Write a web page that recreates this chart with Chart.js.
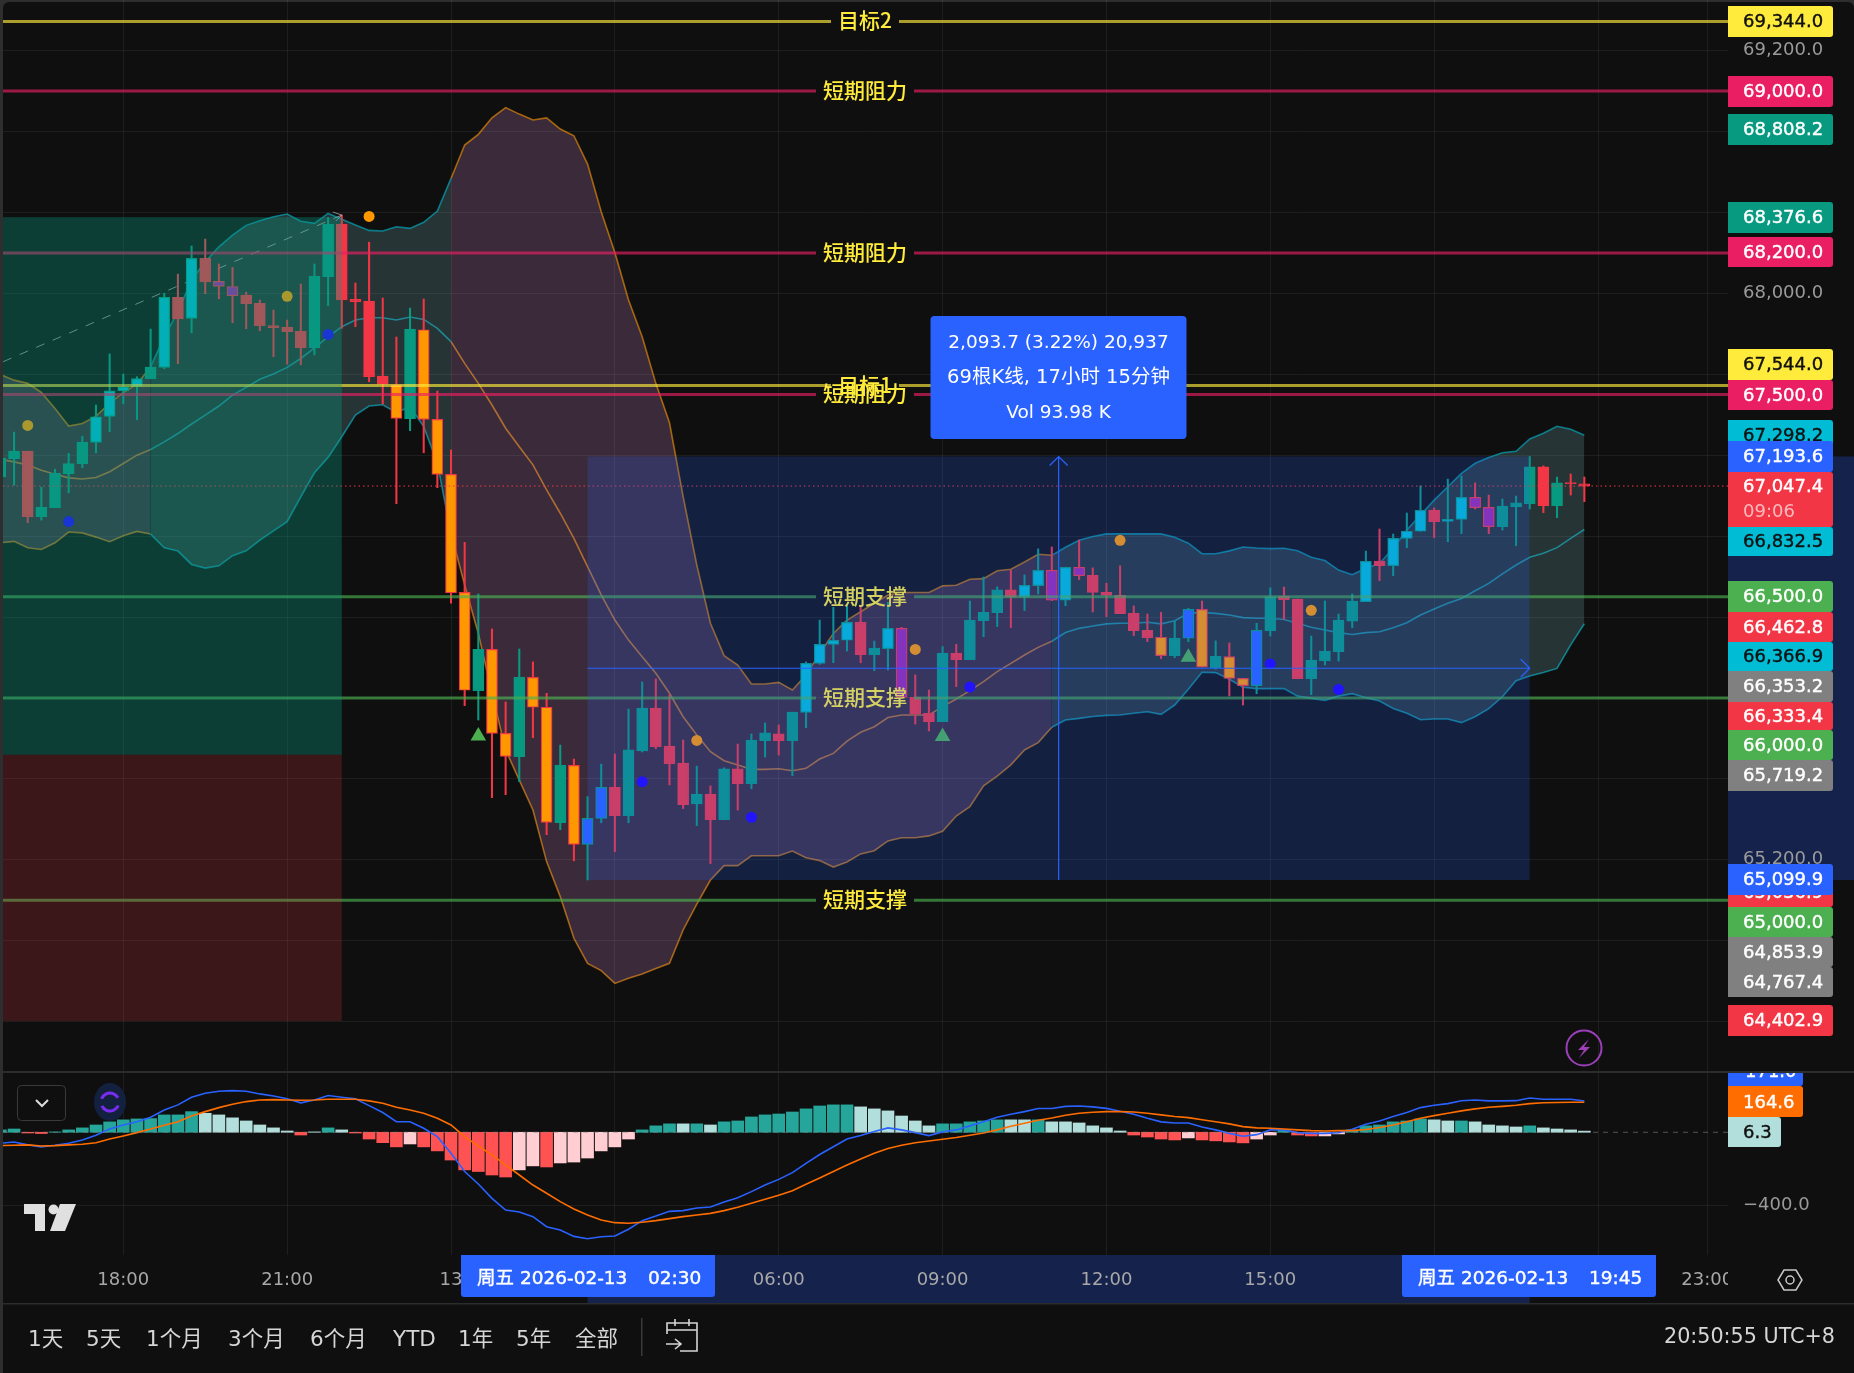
<!DOCTYPE html>
<html>
<head>
<meta charset="utf-8">
<style>
  html, body { margin: 0; padding: 0; background: #2e2e2e; overflow: hidden; }
  canvas { display: block; }
</style>
<script src="https://cdn.jsdelivr.net/npm/chart.js@4"></script>
</head>
<body>
<canvas id="c" width="1854" height="1373"></canvas>
<script>
// 15 minute bars, bar 0 is 18:00 of the previous day
const firstBar = -9;
const kinds = ("g g r g g g g c c c c g c r c r p p r r r r r g g r r r r o " +
  "g o o o o g o o g o o g o b b r g g r r r g r g r g g r g c " +
  "c c c r g c p r r g r g g g r c c p c p r r r r r o g b o g " +
  "o o b g r r g g g g c r c c c r c c p p g g g r g r r").split(" ");
const opens = [
  67093,67182,67220,66896,66940,67108,67158,67263,67392,67518,
  67540,67578,67634,67980,67876,68173,68059,68034,67990,67950,
  67841,67832,67812,67731,68082,68342,67970,67960,67591,67548,
  67380,67820,67377,67105,66522,66036,66240,65825,65710,66102,
  65954,65383,65667,65276,65405,65558,65418,65738,65950,65762,
  65678,65476,65525,65398,65649,65576,65789,65822,65789,65929,
  66171,66265,66285,66374,66214,66244,66344,66003,65924,65883,
  66221,66189,66382,66422,66534,66498,66555,66631,66483,66646,
  66606,66522,66507,66418,66334,66300,66209,66295,66438,66148,
  66204,66097,66061,66333,66502,66489,66095,66184,66229,66380,
  66476,66677,66654,66789,66824,66929,66873,66883,66992,66942,
  66847,66944,66960,67142,66950,67064,67058];
const closes = [
  67186,67220,66896,66943,67110,67159,67265,67390,67518,67538,
  67579,67635,67980,67874,68173,68057,68034,67988,67949,67840,
  67830,67810,67731,68084,68342,67968,67958,67588,67551,67382,
  67823,67377,67105,66520,66038,66240,65825,65711,66102,65954,
  65385,65667,65276,65405,65558,65418,65743,65950,65759,65675,
  65472,65525,65398,65649,65576,65792,65827,65789,65930,66171,
  66265,66285,66374,66214,66247,66344,66003,65921,65883,66221,
  66189,66385,66423,66534,66498,66557,66631,66483,66646,66605,
  66521,66507,66417,66333,66298,66209,66295,66438,66152,66206,
  66097,66061,66334,66501,66484,66095,66187,66232,66385,66479,
  66675,66654,66789,66824,66927,66871,66883,66992,66941,66847,
  66949,66964,67142,66950,67063,67059,67047.4];
const highs = [
  67215,67314,67220,67042,67130,67209,67294,67448,67700,67601,
  67588,67823,68000,68095,68234,68268,68145,68128,68006,67967,
  67917,67868,68046,68145,68375,68387,68051,68253,67977,67784,
  67927,67972,67517,67226,66769,66514,66341,65980,66242,66178,
  66023,65767,65698,65512,65673,65723,65945,66079,66094,66015,
  65792,65663,65565,65655,65772,65822,65876,65866,65930,66178,
  66385,66448,66459,66455,66281,66473,66349,66114,66039,66254,
  66265,66479,66598,66549,66631,66608,66737,66746,66646,66781,
  66643,66567,66653,66455,66415,66423,66381,66443,66479,66282,
  66272,66097,66369,66544,66548,66489,66306,66479,66415,66514,
  66726,66835,66810,66914,67048,66939,67082,67097,67063,67003,
  66983,66998,67193.6,67147,67092,67107,67092];
const lows = [
  67060,67052,66866,66879,66940,67014,67138,67212,67316,67454,
  67375,67578,67627,67652,67805,67998,67973,67855,67825,67815,
  67687,67650,67647,67696,67939,67827,67835,67563,67454,66960,
  67321,67212,67039,66468,65962,65891,65507,65522,65586,65804,
  65324,65349,65195,65100,65383,65240,65383,65733,65749,65570,
  65453,65369,65181,65398,65446,65551,65708,65718,65616,65853,
  66166,66174,66232,66174,66135,66138,65998,65871,65837,65883,
  66056,66189,66303,66353,66348,66432,66514,66481,66456,66585,
  66425,66402,66417,66308,66278,66194,66199,66278,66152,66142,
  66010,65965,66021,66306,66388,66095,66016,66163,66182,66347,
  66476,66580,66604,66743,66824,66792,66772,66812,66934,66812,
  66830,66753,66934,66916,66891,67003,66970];

const bbUpper = [
  67598,67571,67555,67510,67431,67344,67357,67393,67456,67510,
  67551,67637,67785,67909,68066,68156,68230,68288,68336,68359,
  68379,68392,68356,68346,68395,68366,68338,68311,68308,68329,
  68321,68351,68407,68568,68733,68786,68868,68918,68886,68857,
  68867,68812,68779,68639,68403,68202,67967,67785,67555,67360,
  66995,66657,66369,66209,66163,66069,66069,66077,66039,66113,
  66220,66319,66385,66426,66468,66509,66521,66521,66521,66554,
  66557,66587,66590,66629,66636,66672,66710,66705,66745,66779,
  66798,66811,66811,66811,66811,66811,66794,66765,66713,66713,
  66727,66746,66741,66738,66740,66728,66695,66679,66632,66609,
  66641,66665,66740,66830,66904,66978,67044,67110,67160,67188,
  67212,67219,67280,67308,67343,67328,67298.2];
const bbBasis = [
  67179,67167,67151,67126,67106,67088,67082,67090,67118,67159,
  67200,67228,67266,67307,67354,67398,67443,67497,67535,67575,
  67601,67634,67678,67731,67785,67835,67868,67879,67879,67868,
  67883,67871,67827,67761,67654,67555,67448,67333,67242,67152,
  67028,66913,66789,66649,66509,66385,66286,66204,66122,66023,
  65907,65817,65734,65690,65668,65647,65647,65650,65640,65652,
  65698,65726,65787,65830,65858,65903,65916,65916,65916,65957,
  65995,66036,66081,66130,66171,66212,66250,66280,66323,66344,
  66356,66366,66369,66369,66374,66366,66382,66418,66423,66418,
  66410,66397,66394,66394,66388,66369,66349,66336,66323,66314,
  66323,66327,66347,66372,66410,66440,66468,66492,66530,66566,
  66613,66657,66695,66715,66743,66789,66832.5];
const bbLower = [
  66767,66774,66742,66734,66767,66820,66816,66795,66772,66802,
  66823,66810,66742,66726,66660,66642,66653,66703,66727,66780,
  66826,66871,66994,67113,67189,67291,67398,67443,67449,67410,
  67439,67341,67160,66814,66558,66319,66023,65743,65594,65446,
  65191,65018,64812,64688,64652,64589,64614,64635,64663,64688,
  64853,64981,65100,65171,65171,65220,65220,65220,65243,65210,
  65196,65164,65189,65229,65245,65293,65309,65309,65318,65341,
  65416,65463,65566,65614,65669,65743,65779,65855,65891,65899,
  65908,65914,65916,65924,65932,65919,65965,66043,66127,66125,
  66092,66053,66046,66046,66047,66009,65998,65988,66009,66021,
  66001,65985,65948,65924,65892,65896,65896,65878,65907,65947,
  66006,66085,66108,66126,66146,66262,66366.9];
// the band colour flips at these bars: orange, teal, orange, teal
const bbFlipBars = [2, 24, 68];

const macdHist = [
  13,18,-4,-7,2,13,24,40,57,68,
  73,75,95,95,113,104,95,79,62,40,
  24,7,-15,2,24,13,-4,-37,-57,-80,
  -64,-80,-102,-152,-206,-215,-234,-245,-206,-184,
  -190,-168,-163,-141,-102,-80,-37,13,35,46,
  46,46,40,57,62,84,95,100,111,128,
  144,150,150,139,128,117,89,62,35,46,
  46,57,62,68,68,68,68,57,57,51,
  35,24,7,-15,-26,-37,-42,-31,-42,-47,
  -53,-58,-37,-15,11,-15,-20,-20,-9,13,
  35,40,57,62,73,68,62,62,57,40,
  35,29,35,24,18,13,6.3];
// d = strong shade, l = pale shade
const macdShade = ("d d d d d d d d d d d d d d d l l l l l " +
  "l l d l d l d d d d l d d d d d d d l l " +
  "d l l l l l l d d d l d l d d d d d d d " +
  "d d d l l l l l l d d d d d l l d l l l " +
  "l l l d d d d l d d d d l l d d d l l d " +
  "d d d d d l l d l l l l d l l l l").split(" ");
const macdLine = [
  -60,-53,-69,-80,-71,-60,-42,-16,18,40,
  58,82,122,150,192,214,225,228,225,210,
  199,184,161,177,201,192,184,146,108,58,
  58,22,-24,-115,-215,-283,-362,-426,-437,-462,
  -517,-535,-570,-583,-572,-568,-531,-484,-458,-433,
  -429,-415,-409,-382,-358,-325,-289,-258,-221,-170,
  -122,-79,-37,-18,4,24,13,-2,-18,2,
  13,35,57,82,99,113,130,130,142,144,
  139,131,115,99,77,57,51,51,29,13,
  -6,-22,-13,13,13,-2,-6,-6,-2,16,
  44,62,86,108,135,148,157,173,177,172,
  172,173,188,181,181,181,171];
const macdSignal = [
  -73,-71,-69,-75,-73,-69,-66,-57,-37,-20,
  -2,18,38,58,89,113,135,153,168,177,
  179,177,175,177,181,181,181,172,159,137,
  122,104,77,40,-24,-75,-124,-179,-234,-289,
  -334,-380,-420,-453,-480,-495,-498,-493,-484,-473,
  -462,-453,-444,-429,-411,-389,-367,-345,-320,-285,
  -250,-215,-179,-146,-115,-89,-71,-57,-48,-38,
  -29,-16,-4,13,33,49,66,78,93,104,
  110,113,113,111,104,95,86,80,69,58,
  46,31,24,22,18,13,9,7,9,9,
  15,26,40,58,77,91,104,117,128,137,
  142,148,157,162,163,164,164.6];

// markers: bar index and price
const orangeDotBars = [-7, 12, 18, 42, 58, 73, 87];
const orangeDotPrices = [67347, 67985, 68380, 65790, 66240, 66779, 66433];
const blueDotBars = [-4, 15, 38, 46, 62, 84, 89];
const blueDotPrices = [66872, 67797, 65586, 65410, 66054, 66168, 66042];
const triangleBars = [26, 60, 78];
const trianglePrices = [65812, 65809, 66201];

const trendBars = [-8.8, 16];
const trendPrices = [67662, 68387];

const levelPrices = [69344, 69000, 68200, 67544, 67500, 66500, 66000, 65000];
const levelNames = ["目标2", "短期阻力", "短期阻力", "目标1", "短期阻力", "短期支撑", "短期支撑", "短期支撑"];
const levelKinds = ["target", "resist", "resist", "target", "resist", "support", "support", "support"];

const priceTicks = [69200, 68800, 68400, 68000, 67600, 67200, 66800, 66400, 66000, 65600, 65200, 64800, 64400];
const macdTicks = [-400];
const timeTickBars = [0, 12, 24, 36, 48, 60, 72, 84, 96, 108, 116];
const timeTickLabels = ["18:00", "21:00", "13", "03:00", "06:00", "09:00", "12:00", "15:00", "18:00", "21:00", "23:00"];

const tagTexts = ["69,344.0","69,000.0","68,808.2","68,376.6","68,200.0","67,544.0","67,500.0","67,298.2","67,193.6",
  "67,047.4","66,832.5","66,500.0","66,462.8","66,366.9","66,353.2","66,333.4","66,000.0","65,719.2",
  "65,036.9","65,099.9","65,000.0","64,853.9","64,767.4","64,402.9"];
const tagColors = ["#ffeb3b","#e91e63","#089981","#089981","#e91e63","#ffeb3b","#e91e63","#00bcd4","#2962ff",
  "#f23645","#00bcd4","#4caf50","#f23645","#00bcd4","#808080","#f23645","#4caf50","#808080",
  "#f23645","#2962ff","#4caf50","#808080","#808080","#f23645"];
const tagBoxes = [[6,37],[76,107],[114,145],[202,233],[237,267],[349,380],[380,410],[420,451],[441,472],
  [472,527],[527,556],[581,612],[612,642],[642,671],[671,702],[702,730],[730,760],[760,791],
  [877,907],[864,895],[907,937],[937,967],[967,997],[1005,1036]];

const zonePriceTop = 68376.6, zonePriceMid = 65719.2, zonePriceBottom = 64402.9, zoneEndBar = 16;
const measureStartBar = 34, measureEndBar = 103, measureHigh = 67193.6, measureLow = 65099.9;
const lastPrice = 67047.4;

const FONT_FAMILY = '"DejaVu Sans", "Noto Sans CJK SC"';
const FONT_PRICE = '18px "DejaVu Sans"';
const GRID = "rgba(242,242,242,0.07)";
const BG = "#0f0f0f";

const bodyColor = { g: "#089981", r: "#f23645", c: "#00bcd4", o: "#ff9800", p: "#9c27b0", b: "#2962ff" };
const edgeColor = { g: "#089981", r: "#f23645", c: "#089981", o: "#f23645", p: "#f23645", b: "#089981" };

const barX = k => k + firstBar;
const band = i => {
  let n = 0;
  bbFlipBars.forEach(b => { if (i >= b) n++; });
  return n % 2 === 1 ? "teal" : "orange";
};
const bandLine = { teal: "rgba(0,188,212,0.6)", orange: "rgba(255,152,0,0.6)" };
const bandFill = { teal: "rgba(130,200,205,0.2)", orange: "rgba(235,155,230,0.2)" };
const bbSegment = {
  borderColor: ctx => bandLine[band(barX(ctx.p0DataIndex))],
  backgroundColor: ctx => bandFill[band(barX(ctx.p0DataIndex))]
};

function bbDataset(values, fill) {
  return {
    type: "line", yAxisID: "y", order: 6, data: values.map((v, k) => ({ x: barX(k), y: v })),
    borderWidth: 1.6, pointRadius: 0, tension: 0, fill, borderColor: bandLine.teal,
    backgroundColor: bandFill.teal, segment: bbSegment
  };
}

function dots(bars, prices, color, style, radius) {
  return {
    type: "scatter", yAxisID: "y", order: 1, data: bars.map((b, k) => ({ x: b, y: prices[k] })),
    backgroundColor: color, borderWidth: 0, pointStyle: style, pointRadius: radius
  };
}

function fmt(v) {
  return v.toLocaleString("en-US", { minimumFractionDigits: 1, maximumFractionDigits: 1 });
}

// tag text looks a little heavier than the plain face
function boldText(ctx, t, x, y) {
  ctx.lineWidth = 0.4;
  ctx.strokeStyle = ctx.fillStyle;
  ctx.strokeText(t, x, y);
  ctx.fillText(t, x, y);
}

function placeScale(s, top, bottom) {
  s.top = top;
  s.bottom = bottom;
  s.height = bottom - top;
  s.configure();
}

// horizontal levels, price line, position zones and the measure box sit on top of the candles
const overlays = {
  id: "overlays",
  // pin the two panes, the stacked layout leaves a gap at the top
  afterLayout(chart) {
    const a = chart.chartArea;
    a.top = 0;
    a.bottom = 1255;
    a.height = 1255;
    placeScale(chart.scales.y, 0, 1072);
    placeScale(chart.scales.yM, 1072, 1255);
    placeScale(chart.scales.x, 1255, 1303);
  },
  beforeDraw(chart) {
    const ctx = chart.ctx, y = chart.scales.y, x = chart.scales.x;
    ctx.save();
    ctx.fillStyle = BG;
    ctx.beginPath();
    ctx.roundRect(3, 2, 1851, 1371, [6, 6, 0, 0]);
    ctx.fill();
    // range highlighted on both axes
    ctx.fillStyle = "#15224c";
    ctx.fillRect(1728, y.getPixelForValue(measureHigh), 126, y.getPixelForValue(measureLow) - y.getPixelForValue(measureHigh));
    ctx.fillRect(x.getPixelForValue(measureStartBar), 1255, x.getPixelForValue(measureEndBar) - x.getPixelForValue(measureStartBar), 48);
    ctx.restore();
  },
  afterDatasetsDraw(chart) {
    const ctx = chart.ctx, a = chart.chartArea, x = chart.scales.x, y = chart.scales.y, yM = chart.scales.yM;
    const levelColor = { target: "rgba(255,235,59,0.65)", resist: "rgba(233,30,99,0.65)", support: "rgba(76,175,80,0.65)" };
    ctx.save();
    ctx.beginPath();
    ctx.rect(a.left, a.top, a.right - a.left, a.bottom - a.top);
    ctx.clip();

    // macd zero line
    const zero = yM.getPixelForValue(0);
    ctx.strokeStyle = "rgba(130,130,130,0.6)";
    ctx.lineWidth = 1;
    ctx.setLineDash([5, 5]);
    ctx.beginPath(); ctx.moveTo(a.left, zero); ctx.lineTo(a.right, zero); ctx.stroke();

    // last price
    ctx.strokeStyle = "#f23645";
    ctx.setLineDash([1.5, 3]);
    const lp = y.getPixelForValue(lastPrice);
    ctx.beginPath(); ctx.moveTo(a.left, lp); ctx.lineTo(a.right, lp); ctx.stroke();
    ctx.setLineDash([]);

    // levels with centred names
    levelPrices.forEach((p, k) => {
      const py = y.getPixelForValue(p);
      const half = levelNames[k].length > 3 ? 49 : 34;
      ctx.strokeStyle = levelColor[levelKinds[k]];
      ctx.lineWidth = 3;
      ctx.beginPath();
      ctx.moveTo(a.left, py); ctx.lineTo(865 - half, py);
      ctx.moveTo(865 + half, py); ctx.lineTo(a.right, py);
      ctx.stroke();
    });
    ctx.font = '500 21px "Noto Sans CJK SC"';
    ctx.fillStyle = "#ffeb3b";
    ctx.textAlign = "center";
    ctx.textBaseline = "middle";
    levelPrices.forEach((p, k) => ctx.fillText(levelNames[k], 865, y.getPixelForValue(p) - 1));

    // trend arrow head
    const tx = x.getPixelForValue(trendBars[1]), ty = y.getPixelForValue(trendPrices[1]);
    ctx.strokeStyle = "rgba(190,190,190,0.7)";
    ctx.lineWidth = 1;
    ctx.beginPath();
    ctx.moveTo(tx - 9, ty - 3); ctx.lineTo(tx, ty); ctx.lineTo(tx - 6, ty + 6);
    ctx.stroke();

    // long position zones
    const left = a.left, right = x.getPixelForValue(zoneEndBar);
    const top = y.getPixelForValue(zonePriceTop), mid = y.getPixelForValue(zonePriceMid), bot = y.getPixelForValue(zonePriceBottom);
    ctx.fillStyle = "rgba(8,153,129,0.35)";
    ctx.fillRect(left, top, right - left, mid - top);
    ctx.fillStyle = "rgba(242,54,69,0.2)";
    ctx.fillRect(left, mid, right - left, bot - mid);

    // measure box
    const mx0 = x.getPixelForValue(measureStartBar), mx1 = x.getPixelForValue(measureEndBar);
    const my0 = y.getPixelForValue(measureHigh), my1 = y.getPixelForValue(measureLow);
    const mxc = (mx0 + mx1) / 2, myc = (my0 + my1) / 2;
    ctx.fillStyle = "rgba(41,98,255,0.2)";
    ctx.fillRect(mx0, my0, mx1 - mx0, my1 - my0);
    ctx.strokeStyle = "#2962ff";
    ctx.lineWidth = 1.2;
    ctx.beginPath();
    ctx.moveTo(mx0, myc); ctx.lineTo(mx1, myc);
    ctx.moveTo(mx1 - 9, myc - 9); ctx.lineTo(mx1, myc); ctx.lineTo(mx1 - 9, myc + 9);
    ctx.moveTo(mxc, my1); ctx.lineTo(mxc, my0);
    ctx.moveTo(mxc - 9, my0 + 9); ctx.lineTo(mxc, my0); ctx.lineTo(mxc + 9, my0 + 9);
    ctx.stroke();
    ctx.restore();
  },
  afterDraw(chart) {
    const ctx = chart.ctx;
    ctx.save();
    // cover what the time axis draws under the price axis
    ctx.fillStyle = BG;
    ctx.fillRect(1728, 1256, 126, 46);

    // pane and footer separators
    ctx.fillStyle = "#2c2c2c";
    ctx.fillRect(3, 1071, 1851, 2);
    ctx.fillRect(3, 1303, 1851, 1.5);

    // price tags
    ctx.font = FONT_PRICE;
    ctx.textAlign = "left";
    ctx.textBaseline = "middle";
    tagTexts.forEach((t, k) => {
      const [y0, y1] = tagBoxes[k];
      const c = tagColors[k];
      ctx.fillStyle = c;
      ctx.beginPath();
      ctx.roundRect(1728, y0, 105, y1 - y0, [0, 3, 3, 0]);
      ctx.fill();
      ctx.fillStyle = c === "#ffeb3b" || c === "#00bcd4" ? "#0f0f0f" : "#ffffff";
      const cy = t === "67,047.4" ? y0 + 15 : (y0 + y1) / 2 + 1;
      boldText(ctx, t, 1743, cy);
      if (t === "67,047.4") {
        ctx.fillStyle = "rgba(255,255,255,0.65)";
        ctx.fillText("09:06", 1743, y0 + 40);
      }
    });

    // macd tags, the top one is cut by the pane edge
    ctx.save();
    ctx.beginPath();
    ctx.rect(1728, 1073, 126, 182);
    ctx.clip();
    ctx.fillStyle = "#2962ff";
    ctx.beginPath(); ctx.roundRect(1728, 1056, 75, 30, [0, 3, 3, 0]); ctx.fill();
    ctx.fillStyle = "#ffffff";
    boldText(ctx, "171.0", 1745, 1072);
    ctx.restore();
    ctx.fillStyle = "#ff6d00";
    ctx.beginPath(); ctx.roundRect(1728, 1086, 75, 31, [0, 3, 3, 0]); ctx.fill();
    ctx.fillStyle = "#ffffff";
    boldText(ctx, "164.6", 1743, 1103);
    ctx.fillStyle = "#b2dfdb";
    ctx.beginPath(); ctx.roundRect(1728, 1117, 53, 30, [0, 3, 3, 0]); ctx.fill();
    ctx.fillStyle = "#0f0f0f";
    boldText(ctx, "6.3", 1743, 1133);

    // measure label
    ctx.fillStyle = "#2962ff";
    ctx.beginPath(); ctx.roundRect(930.5, 316, 256, 123, 4); ctx.fill();
    ctx.fillStyle = "#ffffff";
    ctx.textAlign = "center";
    ctx.font = '18.5px ' + FONT_FAMILY;
    ctx.fillText("2,093.7 (3.22%) 20,937", 1058.5, 343);
    ctx.font = '19.5px ' + FONT_FAMILY;
    ctx.fillText("69根K线, 17小时 15分钟", 1058.5, 378);
    ctx.font = '18.5px ' + FONT_FAMILY;
    ctx.fillText("Vol 93.98 K", 1058.5, 413);

    // crosshair date tags
    [[461, "02:30"], [1402, "19:45"]].forEach(([tx, hm]) => {
      ctx.fillStyle = "#2962ff";
      ctx.beginPath(); ctx.roundRect(tx, 1255, 254, 42, [0, 0, 3, 3]); ctx.fill();
      ctx.fillStyle = "#ffffff";
      ctx.font = '18.5px ' + FONT_FAMILY;
      ctx.textAlign = "left";
      boldText(ctx, "周五 2026-02-13", tx + 16, 1279);
      boldText(ctx, hm, tx + 187, 1279);
    });

    // footer
    ctx.font = '21.5px ' + FONT_FAMILY;
    ctx.fillStyle = "#d6d6d6";
    ctx.textAlign = "left";
    [["1天", 28], ["5天", 86], ["1个月", 146], ["3个月", 228], ["6个月", 310], ["YTD", 393], ["1年", 458], ["5年", 516], ["全部", 575]]
      .forEach(([t, tx]) => ctx.fillText(t, tx, 1340));
    ctx.textAlign = "right";
    ctx.font = '20.7px ' + FONT_FAMILY;
    ctx.fillText("20:50:55 UTC+8", 1835, 1338);
    ctx.fillStyle = "#3a3a3a";
    ctx.fillRect(641, 1318, 1.5, 38);

    // calendar icon
    ctx.strokeStyle = "#d6d6d6";
    ctx.lineWidth = 1.6;
    ctx.beginPath();
    ctx.moveTo(667, 1334); ctx.lineTo(667, 1323); ctx.lineTo(697, 1323); ctx.lineTo(697, 1351); ctx.lineTo(680, 1351);
    ctx.moveTo(667, 1330); ctx.lineTo(697, 1330);
    ctx.moveTo(675, 1319); ctx.lineTo(675, 1326);
    ctx.moveTo(689, 1319); ctx.lineTo(689, 1326);
    ctx.moveTo(666, 1344); ctx.lineTo(680, 1344);
    ctx.moveTo(675, 1339); ctx.lineTo(681, 1344); ctx.lineTo(675, 1349);
    ctx.stroke();

    // settings hexagon
    ctx.strokeStyle = "#c8c8c8";
    ctx.lineWidth = 1.5;
    ctx.beginPath();
    ctx.moveTo(1778, 1280); ctx.lineTo(1784, 1270); ctx.lineTo(1796, 1270);
    ctx.lineTo(1802, 1280); ctx.lineTo(1796, 1290); ctx.lineTo(1784, 1290); ctx.closePath();
    ctx.stroke();
    ctx.beginPath(); ctx.arc(1790, 1280, 4, 0, Math.PI * 2); ctx.stroke();

    // lightning badge
    ctx.strokeStyle = "#9c3fb8";
    ctx.lineWidth = 2;
    ctx.beginPath(); ctx.arc(1584, 1048, 17.5, 0, Math.PI * 2); ctx.stroke();
    ctx.fillStyle = "#9c3fb8";
    ctx.beginPath();
    ctx.moveTo(1589, 1039); ctx.lineTo(1578, 1050); ctx.lineTo(1584, 1050);
    ctx.lineTo(1579, 1058); ctx.lineTo(1590, 1047); ctx.lineTo(1584, 1047);
    ctx.closePath(); ctx.fill();

    // collapse button and sync icon
    ctx.strokeStyle = "#3a3a3a";
    ctx.lineWidth = 1;
    ctx.beginPath(); ctx.roundRect(17.5, 1085.5, 48, 35, 4); ctx.stroke();
    ctx.strokeStyle = "#dddddd";
    ctx.lineWidth = 2;
    ctx.beginPath(); ctx.moveTo(36, 1100); ctx.lineTo(42, 1106); ctx.lineTo(48, 1100); ctx.stroke();
    ctx.fillStyle = "#14203f";
    ctx.beginPath(); ctx.ellipse(110, 1102, 16, 19, 0, 0, Math.PI * 2); ctx.fill();
    ctx.strokeStyle = "#7a2df0";
    ctx.lineWidth = 3;
    ctx.beginPath(); ctx.arc(110, 1102, 9, 3.5, 5.8); ctx.stroke();
    ctx.beginPath(); ctx.arc(110, 1102, 9, 0.4, 2.7); ctx.stroke();

    // logo
    ctx.fillStyle = "#e0e0e0";
    ctx.fillRect(24, 1204, 21, 10);
    ctx.fillRect(35, 1204, 10, 27);
    ctx.beginPath(); ctx.arc(53.5, 1209.5, 5, 0, Math.PI * 2); ctx.fill();
    ctx.beginPath();
    ctx.moveTo(60, 1204); ctx.lineTo(76, 1204); ctx.lineTo(65, 1231); ctx.lineTo(50, 1231);
    ctx.closePath(); ctx.fill();
    ctx.restore();
  }
};

new Chart(document.getElementById("c"), {
  type: "line",
  plugins: [overlays],
  data: {
    datasets: [
      bbDataset(bbUpper, "+2"),
      bbDataset(bbBasis, false),
      bbDataset(bbLower, false),
      {
        type: "line", yAxisID: "y", order: 5, pointRadius: 0, borderWidth: 1,
        borderColor: "rgba(190,190,190,0.7)", borderDash: [9, 9],
        data: trendBars.map((b, k) => ({ x: b, y: trendPrices[k] }))
      },
      {
        type: "bar", yAxisID: "y", order: 3, grouped: false, barThickness: 1.4, borderWidth: 0,
        backgroundColor: kinds.map(k => edgeColor[k]),
        data: kinds.map((_, k) => ({ x: barX(k), y: [lows[k], highs[k]] }))
      },
      {
        type: "bar", yAxisID: "y", order: 2, grouped: false, barThickness: 11, borderWidth: 1.2, borderSkipped: false,
        backgroundColor: kinds.map(k => bodyColor[k]), borderColor: kinds.map(k => edgeColor[k]),
        data: kinds.map((_, k) => ({ x: barX(k), y: [opens[k], closes[k]] }))
      },
      dots(orangeDotBars, orangeDotPrices, "#ff9800", "circle", 5.5),
      dots(blueDotBars, blueDotPrices, "#2200ff", "circle", 5.5),
      dots(triangleBars, trianglePrices, "#4caf50", "triangle", 9),
      {
        type: "bar", yAxisID: "yM", order: 4, grouped: false, barThickness: 12, borderWidth: 0,
        backgroundColor: macdHist.map((v, k) => v >= 0
          ? (macdShade[k] === "d" ? "#26a69a" : "#b2dfdb")
          : (macdShade[k] === "d" ? "#ff5252" : "#ffcdd2")),
        data: macdHist.map((v, k) => ({ x: barX(k), y: v }))
      },
      {
        type: "line", yAxisID: "yM", order: 3, pointRadius: 0, borderWidth: 1.6, borderColor: "#2962ff",
        data: macdLine.map((v, k) => ({ x: barX(k), y: v }))
      },
      {
        type: "line", yAxisID: "yM", order: 2, pointRadius: 0, borderWidth: 1.6, borderColor: "#ff6d00",
        data: macdSignal.map((v, k) => ({ x: barX(k), y: v }))
      }
    ]
  },
  options: {
    responsive: false,
    animation: false,
    devicePixelRatio: 1,
    layout: { autoPadding: false, padding: { left: 3, top: 0, right: 0, bottom: 70 } },
    plugins: { legend: { display: false }, tooltip: { enabled: false } },
    scales: {
      x: {
        type: "linear", position: "bottom", offset: false, min: -8.81, max: 117.52,
        grid: { color: GRID, drawTicks: false, offset: false },
        border: { display: false },
        afterBuildTicks: s => { s.ticks = timeTickBars.map(v => ({ value: v })); },
        afterFit: s => { s.height = 48; },
        ticks: {
          autoSkip: false, maxRotation: 0, padding: 15, color: "#a8a8a8",
          font: { family: "DejaVu Sans", size: 18 },
          callback: v => timeTickLabels[timeTickBars.indexOf(v)]
        }
      },
      y: {
        type: "linear", position: "right", stack: "panes", stackWeight: 1072, offset: false,
        min: 64151, max: 69450,
        grid: { color: GRID, drawTicks: false },
        border: { display: false },
        afterBuildTicks: s => { s.ticks = priceTicks.map(v => ({ value: v })); },
        afterFit: s => { s.width = 126; },
        ticks: { autoSkip: false, padding: 15, color: "#9a9a9a", font: { family: "DejaVu Sans", size: 18 }, callback: fmt }
      },
      yM: {
        type: "linear", position: "right", stack: "panes", stackWeight: 183, offset: false,
        min: -672, max: 330,
        grid: { color: GRID, drawTicks: false },
        border: { display: false },
        afterBuildTicks: s => { s.ticks = macdTicks.map(v => ({ value: v })); },
        afterFit: s => { s.width = 126; },
        ticks: { autoSkip: false, padding: 15, color: "#9a9a9a", font: { family: "DejaVu Sans", size: 18 }, callback: v => "\u2212" + fmt(Math.abs(v)) }
      }
    }
  }
});
</script>
</body>
</html>
